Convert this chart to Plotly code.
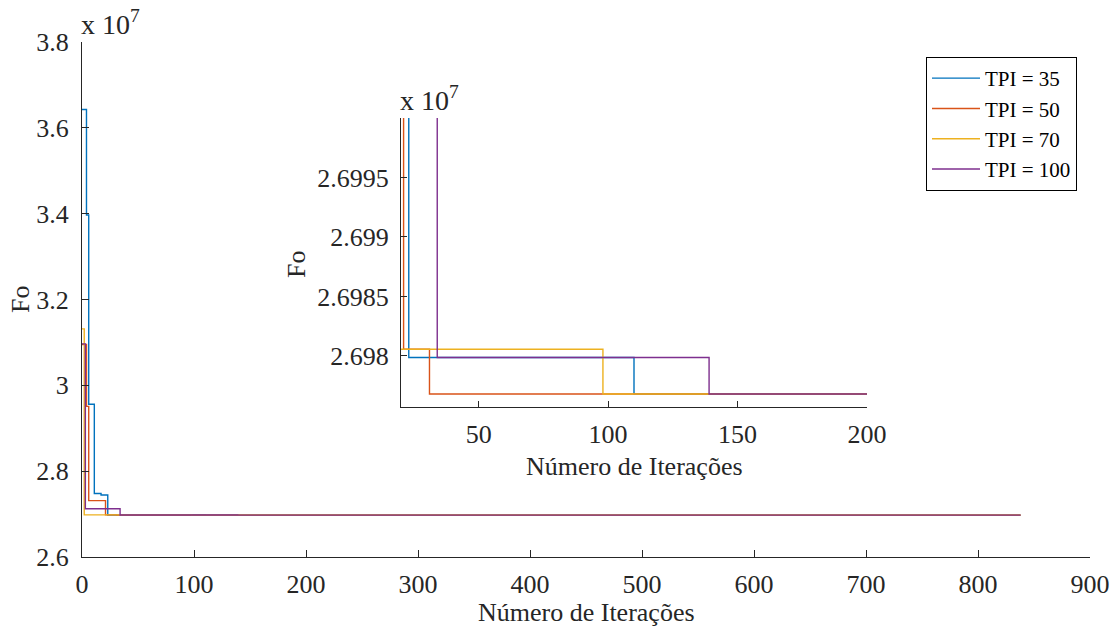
import plotly.graph_objects as go

# Objective function (Fo, in units of 10^7) at each iteration where it improves,
# one series per TPI setting; the last entry marks the end of the run.
tpi_labels = ["TPI = 35", "TPI = 50", "TPI = 70", "TPI = 100"]

iter_tpi35 = [0, 4, 6, 11, 17, 23, 110, 838]
fo_tpi35 = [3.6427, 3.397, 2.956, 2.748, 2.7445, 2.697986, 2.697679, 2.697679]

iter_tpi50 = [0, 4, 6, 21, 31, 838]
fo_tpi50 = [3.095, 2.951, 2.7313, 2.698056, 2.697679, 2.697679]

iter_tpi70 = [0, 2, 98, 838]
fo_tpi70 = [3.1315, 2.698056, 2.697679, 2.697679]

iter_tpi100 = [0, 3, 34, 139, 838]
fo_tpi100 = [3.0965, 2.7124, 2.697986, 2.697679, 2.697679]

colors = ["#0072BD", "#D95319", "#EDB120", "#7E2F8E"]

main_xticks = [0, 100, 200, 300, 400, 500, 600, 700, 800, 900]
main_yticks = [2.6, 2.8, 3.0, 3.2, 3.4, 3.6, 3.8]
main_yticktext = ["2.6", "2.8", "3", "3.2", "3.4", "3.6", "3.8"]

inset_xticks = [50, 100, 150, 200]
inset_yticks = [2.698, 2.6985, 2.699, 2.6995]
inset_yticktext = ["2.698", "2.6985", "2.699", "2.6995"]

series = [
    (iter_tpi35, fo_tpi35),
    (iter_tpi50, fo_tpi50),
    (iter_tpi70, fo_tpi70),
    (iter_tpi100, fo_tpi100),
]

FONT = "Liberation Serif"
INK = "#262626"
TICK_SIZE = 26
TITLE_SIZE = 26

fig = go.Figure()

# Full run
for (xs, ys), name, c in zip(series, tpi_labels, colors):
    fig.add_trace(go.Scatter(
        x=xs, y=ys, mode="lines", name=name,
        line=dict(color=c, width=1.4, shape="hv"),
        xaxis="x", yaxis="y",
    ))

# Zoomed view of iterations 20-200
for (xs, ys), name, c in zip(series, tpi_labels, colors):
    fig.add_trace(go.Scatter(
        x=xs, y=ys, mode="lines", name=name, showlegend=False,
        line=dict(color=c, width=1.4, shape="hv"),
        xaxis="x2", yaxis="y2",
    ))

W, H = 1119, 630


def dom_x(a, b):
    return [a / W, b / W]


def dom_y(top, bottom):
    return [1 - bottom / H, 1 - top / H]


axis_common = dict(
    showgrid=False, zeroline=False, showline=True, linecolor=INK, linewidth=1,
    ticks="inside", tickcolor=INK, tickwidth=1, mirror=False, automargin=False,
    tickfont=dict(family=FONT, size=TICK_SIZE, color=INK),
)

fig.update_layout(
    width=W, height=H,
    margin=dict(l=0, r=0, t=0, b=0, autoexpand=False),
    paper_bgcolor="white", plot_bgcolor="white",
    font=dict(family=FONT, color=INK),
    xaxis=dict(domain=dom_x(82, 1090), range=[0, 900], tickvals=main_xticks,
               ticklen=7, anchor="y", ticklabelstandoff=4, **axis_common),
    yaxis=dict(domain=dom_y(42, 557), range=[2.6, 3.8], tickvals=main_yticks,
               ticktext=main_yticktext, ticklen=7, anchor="x",
               ticklabelstandoff=7, **axis_common),
    xaxis2=dict(domain=dom_x(401, 867), range=[20, 200], tickvals=inset_xticks,
                ticklen=6, anchor="y2", ticklabelstandoff=4, **axis_common),
    yaxis2=dict(domain=dom_y(118, 407), range=[2.69757, 2.7000],
                tickvals=inset_yticks, ticktext=inset_yticktext, ticklen=6,
                anchor="x2", ticklabelstandoff=6, **axis_common),
    legend=dict(
        x=1077 / W, y=1 - 57 / H, xanchor="right", yanchor="top",
        bgcolor="white", bordercolor="#000000", borderwidth=1,
        font=dict(family=FONT, size=21, color="#000000"),
        tracegroupgap=0, itemwidth=48,
    ),
    showlegend=True,
)


def label(text, x, y, angle=0, size=TITLE_SIZE):
    return dict(text=text, x=x / W, y=1 - y / H, xref="paper", yref="paper",
                xanchor="center", yanchor="middle", showarrow=False,
                textangle=angle, font=dict(family=FONT, size=size, color=INK))


annotations = [
    # axis titles
    label("Número de Iterações", (82 + 1090) / 2, 612),
    label("Fo", 20, 300, -90),
    label("Número de Iterações", 634, 466),
    label("Fo", 296, 264, -90),
    # exponent markers
    dict(text="x 10<sup>7</sup>", x=79 / W, y=1 - 42 / H, xref="paper",
         yref="paper", xanchor="left", yanchor="bottom", showarrow=False,
         font=dict(family=FONT, size=28, color=INK)),
    dict(text="x 10<sup>7</sup>", x=398 / W, y=1 - 118 / H, xref="paper",
         yref="paper", xanchor="left", yanchor="bottom", showarrow=False,
         font=dict(family=FONT, size=28, color=INK)),
]
fig.update_layout(annotations=annotations)

fig.write_html("out.html")
